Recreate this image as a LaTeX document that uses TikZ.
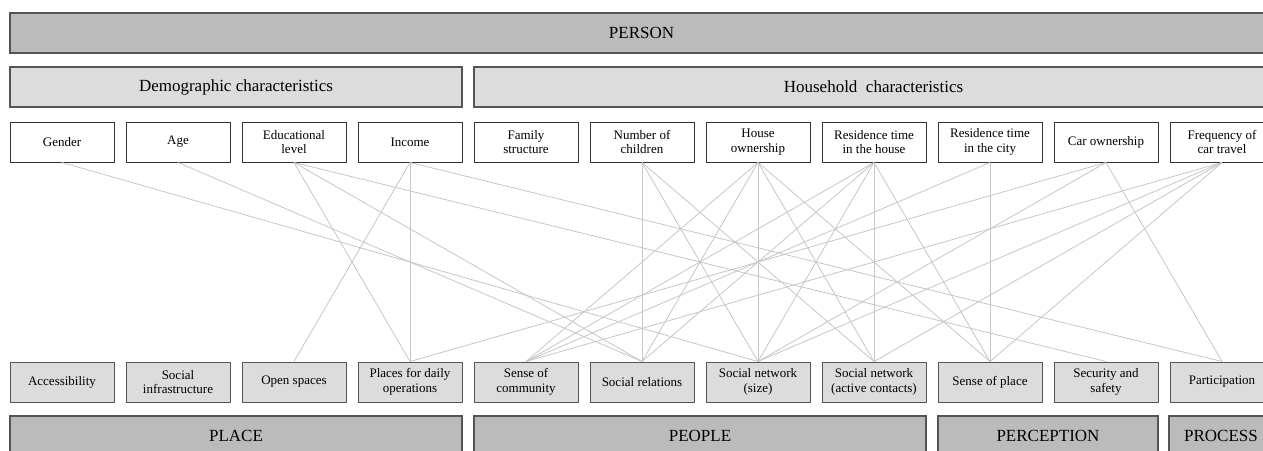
\documentclass[tikz,border=0pt]{standalone}
\usepackage{fontspec}
\setmainfont{Liberation Serif}
\usepackage{tikz}
\definecolor{bandgray}{HTML}{BBBBBB}
\definecolor{boxgray}{HTML}{DCDCDC}
\definecolor{edgegray}{HTML}{555555}
\definecolor{linkgray}{HTML}{C6C6C6}

\begin{document}
\begin{tikzpicture}[x=1pt, y=-1pt,
    band/.style = {draw=edgegray, fill=bandgray, line width=1.2pt, minimum height=40pt, inner sep=0pt, font=\fontsize{17}{19}\selectfont},
    group/.style = {band, fill=boxgray},
    attr/.style = {draw=black!80, fill=white, line width=1pt, minimum width=104pt, minimum height=40pt, inner sep=0pt, align=center, font=\fontsize{13}{14.5}\selectfont},
    factor/.style = {attr, draw=edgegray, fill=boxgray},
    link/.style = {draw=linkgray, line width=0.8pt}]
    \path[use as bounding box, clip] (0,0) rectangle (1263,450);

    % person side
    \node[band, minimum width=1263pt] (person) at (641.5,33) {PERSON};
    \node[group, minimum width=452pt] (demo) at (236,87) {Demographic characteristics};
    \node[group, minimum width=799pt] (household) at (873.5,87) {Household\ \ characteristics};

    \node[attr] (gender) at (62,142) {Gender};
    \node[attr] (age) at (178,142) {Age};
    \node[attr] (edu) at (294,142) {Educational\\level};
    \node[attr] (income) at (410,142) {Income};
    \node[attr] (family) at (526,142) {Family\\structure};
    \node[attr] (children) at (642,142) {Number of\\children};
    \node[attr] (house) at (758,142) {House\\ownership};
    \node[attr] (reshouse) at (874,142) {Residence time\\in the house};
    \node[attr] (rescity) at (990,142) {Residence time\\in the city};
    \node[attr] (car) at (1106,142) {Car ownership};
    \node[attr] (freq) at (1222,142) {Frequency of\\car travel};

    % place side
    \node[factor] (access) at (62,382) {Accessibility};
    \node[factor] (infra) at (178,382) {Social\\infrastructure};
    \node[factor] (open) at (294,382) {Open spaces};
    \node[factor] (places) at (410,382) {Places for daily\\operations};
    \node[factor] (community) at (526,382) {Sense of\\community};
    \node[factor] (relations) at (642,382) {Social relations};
    \node[factor] (netsize) at (758,382) {Social network\\(size)};
    \node[factor] (netactive) at (874,382) {Social network\\(active contacts)};
    \node[factor] (senseplace) at (990,382) {Sense of place};
    \node[factor] (security) at (1106,382) {Security and\\safety};
    \node[factor] (participation) at (1222,382) {Participation};

    \node[band, minimum width=452pt] (place) at (236,436) {PLACE};
    \node[band, minimum width=452pt] (people) at (700,436) {PEOPLE};
    \node[band, minimum width=220pt] (perception) at (1048,436) {PERCEPTION};
    \node[band, minimum width=104pt] (process) at (1221,436) {PROCESS};

    % links
    \draw[link] (gender.south) -- (netsize.north);
    \draw[link] (age.south) -- (relations.north);
    \draw[link] (edu.south) -- (places.north);
    \draw[link] (edu.south) -- (relations.north);
    \draw[link] (edu.south) -- (security.north);
    \draw[link] (income.south) -- (open.north);
    \draw[link] (income.south) -- (places.north);
    \draw[link] (income.south) -- (participation.north);
    \draw[link] (children.south) -- (relations.north);
    \draw[link] (children.south) -- (netsize.north);
    \draw[link] (children.south) -- (netactive.north);
    \draw[link] (house.south) -- (community.north);
    \draw[link] (house.south) -- (relations.north);
    \draw[link] (house.south) -- (netsize.north);
    \draw[link] (house.south) -- (netactive.north);
    \draw[link] (house.south) -- (senseplace.north);
    \draw[link] (reshouse.south) -- (community.north);
    \draw[link] (reshouse.south) -- (relations.north);
    \draw[link] (reshouse.south) -- (netsize.north);
    \draw[link] (reshouse.south) -- (netactive.north);
    \draw[link] (reshouse.south) -- (senseplace.north);
    \draw[link] (rescity.south) -- (community.north);
    \draw[link] (rescity.south) -- (senseplace.north);
    \draw[link] (car.south) -- (places.north);
    \draw[link] (car.south) -- (netsize.north);
    \draw[link] (car.south) -- (participation.north);
    \draw[link] (freq.south) -- (community.north);
    \draw[link] (freq.south) -- (netsize.north);
    \draw[link] (freq.south) -- (netactive.north);
    \draw[link] (freq.south) -- (senseplace.north);
\end{tikzpicture}
\end{document}
